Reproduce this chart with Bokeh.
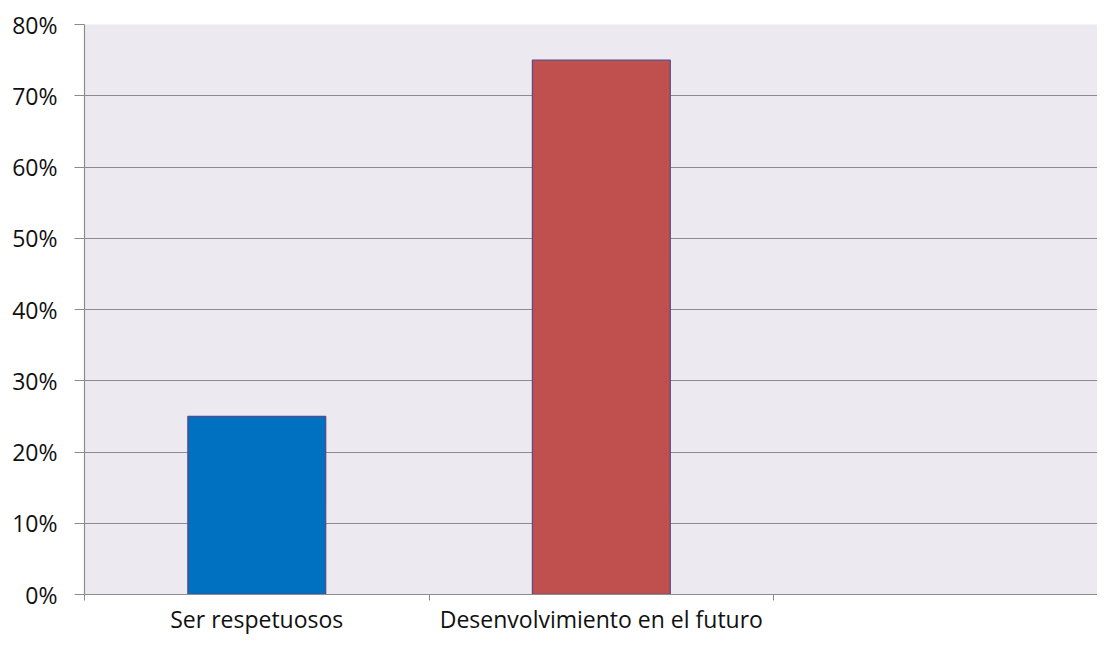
from bokeh.plotting import figure
from bokeh.models import FixedTicker, NumeralTickFormatter, ColumnDataSource, Range1d
from bokeh.embed import file_html
from bokeh.resources import INLINE

categories = ["Ser respetuosos", "Desenvolvimiento en el futuro", ""]
values = [0.25, 0.75, None]
colors = ["#0070C0", "#C0504D", "#FFFFFF"]
y_ticks = [0, 0.1, 0.2, 0.3, 0.4, 0.5, 0.6, 0.7, 0.8]

xs = [i + 0.5 for i in range(len(categories))]
bx = [x for x, v in zip(xs, values) if v is not None]
bv = [v for v in values if v is not None]
bc = [c for c, v in zip(colors, values) if v is not None]
src = ColumnDataSource(dict(x=bx, top=bv, color=bc))

FONT = "Open Sans"
GRID = "#8C8C8C"
FS = "23px"

p = figure(width=1097, height=637, output_backend="svg", toolbar_location=None,
           x_range=Range1d(0, 2.94), y_range=Range1d(0, 0.8),
           min_border_left=84, min_border_right=0, min_border_top=24, min_border_bottom=37,
           background_fill_color="#ECEAF0", border_fill_color="white", outline_line_color=None)

p.vbar(x="x", top="top", width=0.40, bottom=0, source=src, fill_color="color",
       line_color="#5B4A86", line_width=1.3)

p.xgrid.visible = False
p.ygrid.grid_line_color = GRID
p.ygrid.grid_line_width = 1.2
p.ygrid.ticker = FixedTicker(ticks=y_ticks)

p.yaxis.ticker = FixedTicker(ticks=y_ticks)
p.yaxis.formatter = NumeralTickFormatter(format="0%")
p.yaxis.axis_line_color = GRID
p.yaxis.axis_line_width = 1.2
p.yaxis.major_tick_line_color = GRID
p.yaxis.major_tick_out = 10
p.yaxis.major_tick_in = 0
p.yaxis.minor_tick_line_color = None
p.yaxis.major_label_standoff = 17
p.yaxis.major_label_text_font = FONT
p.yaxis.major_label_text_font_size = FS
p.yaxis.major_label_text_color = "#111111"

p.xaxis.ticker = FixedTicker(ticks=xs, minor_ticks=[0, 1, 2, 3])
p.xaxis.major_label_overrides = {x: c for x, c in zip(xs, categories)}
p.xaxis.axis_line_color = GRID
p.xaxis.axis_line_width = 1.2
p.xaxis.major_tick_line_color = None
p.xaxis.major_tick_out = 0
p.xaxis.major_tick_in = 0
p.xaxis.minor_tick_line_color = GRID
p.xaxis.minor_tick_out = 6
p.xaxis.minor_tick_in = 0
p.xaxis.major_label_standoff = 2
p.xaxis.major_label_text_font = FONT
p.xaxis.major_label_text_font_size = FS
p.xaxis.major_label_text_color = "#111111"

open("out.html", "w").write(file_html(p, INLINE))
